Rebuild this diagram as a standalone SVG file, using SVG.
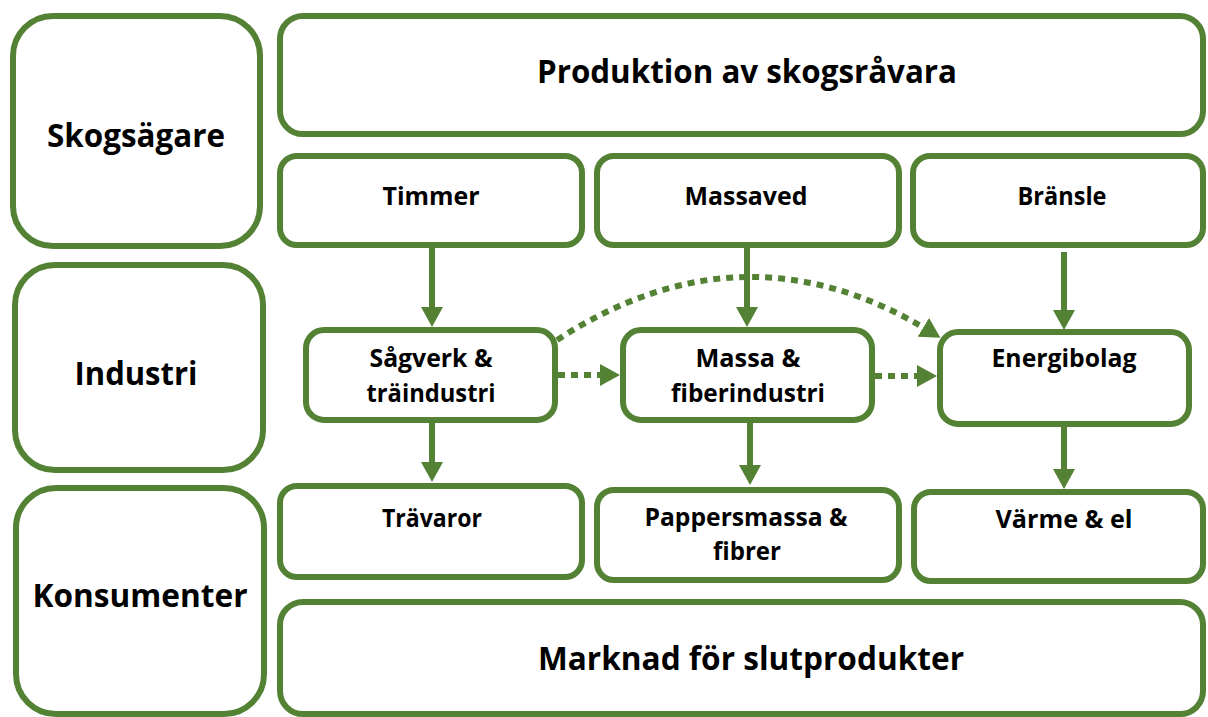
<svg xmlns="http://www.w3.org/2000/svg" width="1208" height="717" viewBox="0 0 1208 717">
<style>
.box{fill:#fff;stroke:#548235;stroke-width:6}
.t{font-family:"Open Sans","Noto Sans","Liberation Sans",sans-serif;font-weight:bold;fill:#000;text-anchor:middle}
.s{font-size:25px}
.b{font-size:33px}
.c{fill:none;stroke:#548235;stroke-width:6}
.d{stroke-dasharray:7 6}
</style>
<defs>
<marker id="ah" markerUnits="userSpaceOnUse" markerWidth="20" markerHeight="22" viewBox="0 0 20 22" refX="9" refY="11" orient="auto">
<path d="M0,0 L20,11 L0,22 Z" fill="#548235"/>
</marker>
</defs>
<rect width="1208" height="717" fill="#fff"/>
<g id="skogsagare"><rect class="box" x="13" y="16" width="247" height="230" rx="40"/><text class="t b" x="136" y="147" textLength="178" lengthAdjust="spacingAndGlyphs">Skogsägare</text></g>
<g id="industri"><rect class="box" x="15" y="265" width="248" height="205" rx="40"/><text class="t b" x="136" y="385" textLength="123" lengthAdjust="spacingAndGlyphs">Industri</text></g>
<g id="konsumenter"><rect class="box" x="16" y="488" width="248" height="226" rx="40"/><text class="t b" x="140" y="607" textLength="215" lengthAdjust="spacingAndGlyphs">Konsumenter</text></g>
<g id="produktion"><rect class="box" x="280" y="16" width="923" height="118" rx="23"/><text class="t b" x="747" y="83" textLength="420" lengthAdjust="spacingAndGlyphs">Produktion av skogsråvara</text></g>
<g id="timmer"><rect class="box" x="280" y="156" width="302" height="89" rx="17"/><text class="t s" x="431" y="205" textLength="97" lengthAdjust="spacingAndGlyphs">Timmer</text></g>
<g id="massaved"><rect class="box" x="597" y="156" width="302" height="89" rx="17"/><text class="t s" x="746" y="205" textLength="123" lengthAdjust="spacingAndGlyphs">Massaved</text></g>
<g id="bransle"><rect class="box" x="913" y="156" width="290" height="89" rx="17"/><text class="t s" x="1062" y="205" textLength="89" lengthAdjust="spacingAndGlyphs">Bränsle</text></g>
<g id="sagverk"><rect class="box" x="306" y="330" width="249" height="90" rx="18"/><text class="t s" x="431" y="367" textLength="123" lengthAdjust="spacingAndGlyphs">Sågverk &amp;</text><text class="t s" x="431" y="402" textLength="129" lengthAdjust="spacingAndGlyphs">träindustri</text></g>
<g id="massa"><rect class="box" x="623" y="330" width="249" height="90" rx="18"/><text class="t s" x="748" y="367" textLength="105" lengthAdjust="spacingAndGlyphs">Massa &amp;</text><text class="t s" x="748" y="402" textLength="154" lengthAdjust="spacingAndGlyphs">fiberindustri</text></g>
<g id="energibolag"><rect class="box" x="940" y="332" width="249" height="92" rx="18"/><text class="t s" x="1064" y="367" textLength="145" lengthAdjust="spacingAndGlyphs">Energibolag</text></g>
<g id="travaror"><rect class="box" x="280" y="486" width="302" height="91" rx="17"/><text class="t s" x="432" y="527" textLength="100" lengthAdjust="spacingAndGlyphs">Trävaror</text></g>
<g id="pappersmassa"><rect class="box" x="597" y="490" width="302" height="90" rx="17"/><text class="t s" x="746" y="526" textLength="203" lengthAdjust="spacingAndGlyphs">Pappersmassa &amp;</text><text class="t s" x="747" y="560" textLength="68" lengthAdjust="spacingAndGlyphs">fibrer</text></g>
<g id="varme"><rect class="box" x="914" y="492" width="289" height="89" rx="17"/><text class="t s" x="1064" y="528" textLength="137" lengthAdjust="spacingAndGlyphs">Värme &amp; el</text></g>
<g id="marknad"><rect class="box" x="280" y="602" width="923" height="112" rx="23"/><text class="t b" x="751" y="670" textLength="426" lengthAdjust="spacingAndGlyphs">Marknad för slutprodukter</text></g>
<g id="connectors">
<line class="c" x1="432" y1="248" x2="432" y2="316" marker-end="url(#ah)"/>
<line class="c" x1="747" y1="245" x2="747" y2="316" marker-end="url(#ah)"/>
<line class="c" x1="1064" y1="252" x2="1064" y2="319" marker-end="url(#ah)"/>
<line class="c" x1="432" y1="420" x2="432" y2="471" marker-end="url(#ah)"/>
<line class="c" x1="750" y1="420" x2="750" y2="474" marker-end="url(#ah)"/>
<line class="c" x1="1064" y1="424" x2="1064" y2="478" marker-end="url(#ah)"/>
<line class="c d" x1="558" y1="375" x2="609" y2="375" marker-end="url(#ah)"/>
<line class="c d" x1="875" y1="376" x2="926" y2="376" marker-end="url(#ah)"/>
<path class="c d" d="M557,340 Q745,218 931,332" marker-end="url(#ah)"/>
</g>
</svg>
